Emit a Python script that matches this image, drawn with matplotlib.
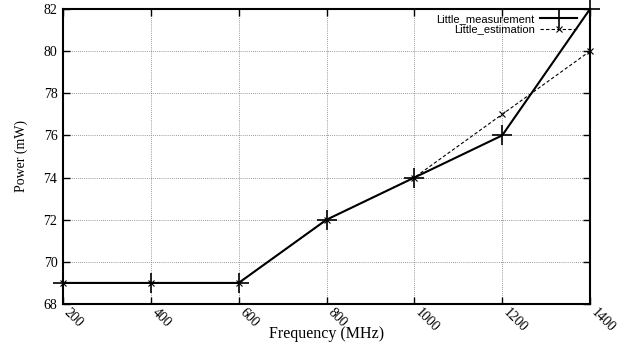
import matplotlib
matplotlib.use("Agg")
import matplotlib.pyplot as plt
from matplotlib import font_manager as fm
import matplotlib.transforms as mtransforms
import os

freq = [200, 400, 600, 800, 1000, 1200, 1400]
measurement = [69, 69, 69, 72, 74, 76, 82]
estimation = [69, 69, 69, 72, 74, 77, 80]
yticks = [68, 70, 72, 74, 76, 78, 80, 82]

plt.rcParams['font.family'] = ['Liberation Serif', 'DejaVu Serif']

# find the regular (non-narrow) Liberation Sans
sans_file = None
for f in fm.findSystemFonts():
    if os.path.basename(f) == 'LiberationSans-Regular.ttf':
        sans_file = f
        break
if sans_file:
    leg_prop = fm.FontProperties(fname=sans_file, size=8)
else:
    leg_prop = fm.FontProperties(family='DejaVu Sans', size=7.5)

fig = plt.figure(figsize=(6.34, 3.46), dpi=100)
ax = fig.add_axes([63/634, 1-304/346, (590-63)/634, (304-9)/346])

ax.plot(freq, measurement, color='black', lw=1.5, marker='+', ms=14, mew=1.2,
        label='Little_measurement', clip_on=False, zorder=3)
ax.plot(freq, estimation, color='black', lw=0.8, ls=(0, (3, 2)), marker='x', ms=4, mew=0.8,
        label='Little_estimation', clip_on=False, zorder=3)

ax.set_xlim(200, 1400)
ax.set_ylim(68, 82)
ax.set_xticks(freq)
ax.set_yticks(yticks)
ax.set_xticklabels([str(f) for f in freq], rotation=-45, ha='left', va='center',
                   rotation_mode='anchor', fontsize=10)
ax.set_yticklabels([str(y) for y in yticks], fontsize=10)
ax.tick_params(direction='in', top=True, right=True, length=5, width=1, pad=4)
ax.tick_params(axis='x', pad=4.5)
ax.grid(True, color='#777777', ls=(0, (1, 1.5)), lw=0.6)
for s in ax.spines.values():
    s.set_linewidth(1.5)

offset = mtransforms.ScaledTranslation(3/100, 0, fig.dpi_scale_trans)
for lab in ax.get_xticklabels():
    lab.set_transform(lab.get_transform() + offset)

ax.set_xlabel('Frequency (MHz)', fontsize=11.5, va='center', ha='center')
ax.xaxis.set_label_coords(0.501, -0.102)
ax.set_ylabel('Power (mW)', fontsize=10, va='center', ha='center')
ax.yaxis.set_label_coords(-0.08, 0.5)

leg = ax.legend(loc='upper right', markerfirst=False, frameon=False,
                prop=leg_prop, bbox_to_anchor=(577/634, 1-14/346),
                bbox_transform=fig.transFigure, borderaxespad=0, borderpad=0,
                handlelength=3.3, labelspacing=0.05, handletextpad=0.5)
for t in leg.get_texts():
    t.set_ha('right')

fig.savefig('out.png', dpi=100)
